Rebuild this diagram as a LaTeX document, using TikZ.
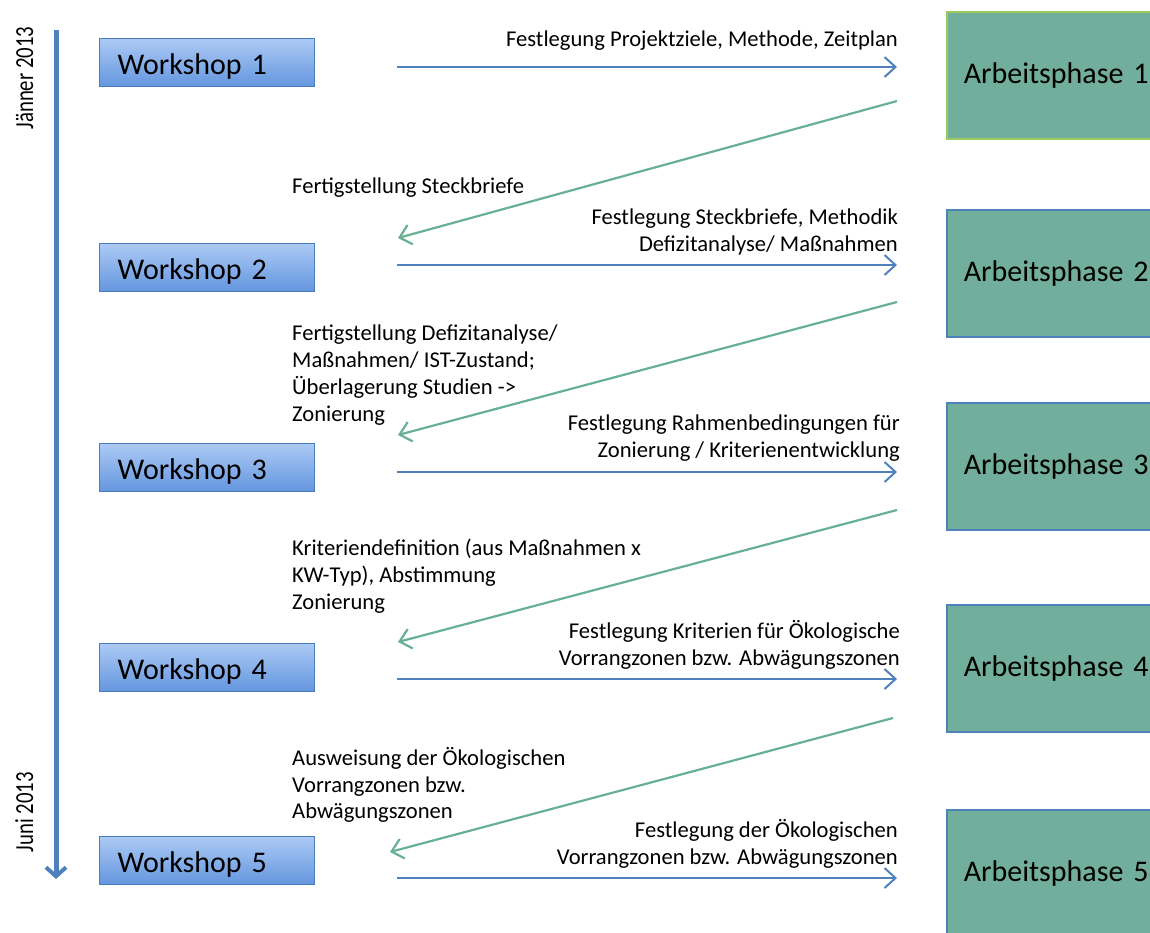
\documentclass[tikz,border=0pt]{standalone}
\usepackage{fontspec}
\usepackage{graphicx}
\setmainfont{Carlito}
\usetikzlibrary{arrows.meta}
\definecolor{lineblue}{RGB}{79,129,189}
\definecolor{wsborder}{RGB}{74,126,187}
\definecolor{wstop}{RGB}{172,202,245}
\definecolor{wsbot}{RGB}{100,150,222}
\definecolor{apfill}{RGB}{113,174,155}
\definecolor{apgreenborder}{RGB}{155,203,91}
\definecolor{arrgreen}{RGB}{104,176,148}
\tikzset{
  wsbox/.style={draw=wsborder, line width=1.2pt, top color=wstop, bottom color=wsbot,
    minimum width=215, minimum height=48, anchor=north west, inner xsep=18,
    text width=179, align=left, text height=26, text depth=2,
    font=\fontsize{30}{36}\selectfont},
  apbox/.style={draw=lineblue, line width=1.5pt, fill=apfill, anchor=north west,
    minimum height=127, inner xsep=17, text width=230, align=left,
    font=\fontsize{30}{36}\selectfont},
  lbl/.style={inner sep=0, font=\fontsize{22.6}{26.8}\selectfont},
  lblL/.style={lbl, anchor=north west, align=left},
  lblR/.style={lbl, anchor=north east, align=right},
  fwd/.style={draw=lineblue, line width=2pt, -{Straight Barb[length=11pt,width=20pt,line width=2pt]}},
  back/.style={draw=arrgreen, line width=2.2pt, -{Straight Barb[length=11pt,width=20pt,line width=2.2pt]}},
  timeline/.style={draw=lineblue, line width=5pt, -{Straight Barb[length=9pt,width=20pt,line width=4pt]}},
  datelbl/.style={inner sep=0, rotate=90, anchor=base, font=\fontsize{26}{30}\selectfont}
}
\begin{document}
\begin{tikzpicture}[x=1pt,y=-1pt]
\useasboundingbox (0,0) rectangle (1150,932);
\clip (0,0) rectangle (1150,932);

% timeline
\coordinate (tlA) at (56,30);
\coordinate (tlB) at (56,879);
\draw[timeline] (tlA) -- (tlB);
\node[datelbl] (jan) at (33,78) {\scalebox{0.8}[1]{Jänner 2013}};
\node[datelbl] (jun) at (33,812) {\scalebox{0.8}[1]{Juni 2013}};

% workshops
\node[wsbox] (ws1) at (99,38) {Workshop 1};
\node[wsbox] (ws2) at (99,243) {Workshop 2};
\node[wsbox] (ws3) at (99,443) {Workshop 3};
\node[wsbox] (ws4) at (99,643) {Workshop 4};
\node[wsbox] (ws5) at (99,836) {Workshop 5};

% work phases
\node[apbox, draw=apgreenborder] (ap1) at (946,11) {Arbeitsphase 1};
\node[apbox] (ap2) at (946,209) {Arbeitsphase 2};
\node[apbox] (ap3) at (946,402) {Arbeitsphase 3};
\node[apbox] (ap4) at (946,604) {Arbeitsphase 4};
\node[apbox] (ap5) at (946,809) {Arbeitsphase 5};

% arrow end points
\coordinate (f1s) at (397,67);  \coordinate (f1e) at (897,67);
\coordinate (f2s) at (397,265); \coordinate (f2e) at (897,265);
\coordinate (f3s) at (397,472); \coordinate (f3e) at (897,472);
\coordinate (f4s) at (397,679); \coordinate (f4e) at (897,679);
\coordinate (f5s) at (397,878); \coordinate (f5e) at (897,878);
\coordinate (b1s) at (897,101); \coordinate (b1e) at (398,238);
\coordinate (b2s) at (897,302); \coordinate (b2e) at (398,435);
\coordinate (b3s) at (897,510); \coordinate (b3e) at (398,642);
\coordinate (b4s) at (893,718); \coordinate (b4e) at (390,852);

\draw[fwd] (f1s) -- (f1e);
\draw[fwd] (f2s) -- (f2e);
\draw[fwd] (f3s) -- (f3e);
\draw[fwd] (f4s) -- (f4e);
\draw[fwd] (f5s) -- (f5e);
\draw[back] (b1s) -- (b1e);
\draw[back] (b2s) -- (b2e);
\draw[back] (b3s) -- (b3e);
\draw[back] (b4s) -- (b4e);

% labels
\node[lblR] (t1) at (898,31) {Festlegung Projektziele, Methode, Zeitplan};
\node[lblL] (t2) at (292,178) {Fertigstellung Steckbriefe};
\node[lblR] (t3) at (898,209) {Festlegung Steckbriefe, Methodik\\Defizitanalyse/ Maßnahmen};
\node[lblL] (t4) at (292,325) {Fertigstellung Defizitanalyse/\\Maßnahmen/ IST-Zustand;\\Überlagerung Studien ->\\Zonierung};
\node[lblR] (t5) at (900,415) {Festlegung Rahmenbedingungen für\\Zonierung / Kriterienentwicklung};
\node[lblL] (t6) at (292,539) {Kriteriendefinition (aus Maßnahmen x\\KW-Typ), Abstimmung\\Zonierung};
\node[lblR] (t7) at (900,620) {Festlegung Kriterien für Ökologische\\Vorrangzonen bzw. Abwägungszonen};
\node[lblL] (t8) at (292,747) {Ausweisung der Ökologischen\\Vorrangzonen bzw.\\Abwägungszonen};
\node[lblR] (t9) at (898,819) {Festlegung der Ökologischen\\Vorrangzonen bzw. Abwägungszonen};
\end{tikzpicture}
\end{document}
